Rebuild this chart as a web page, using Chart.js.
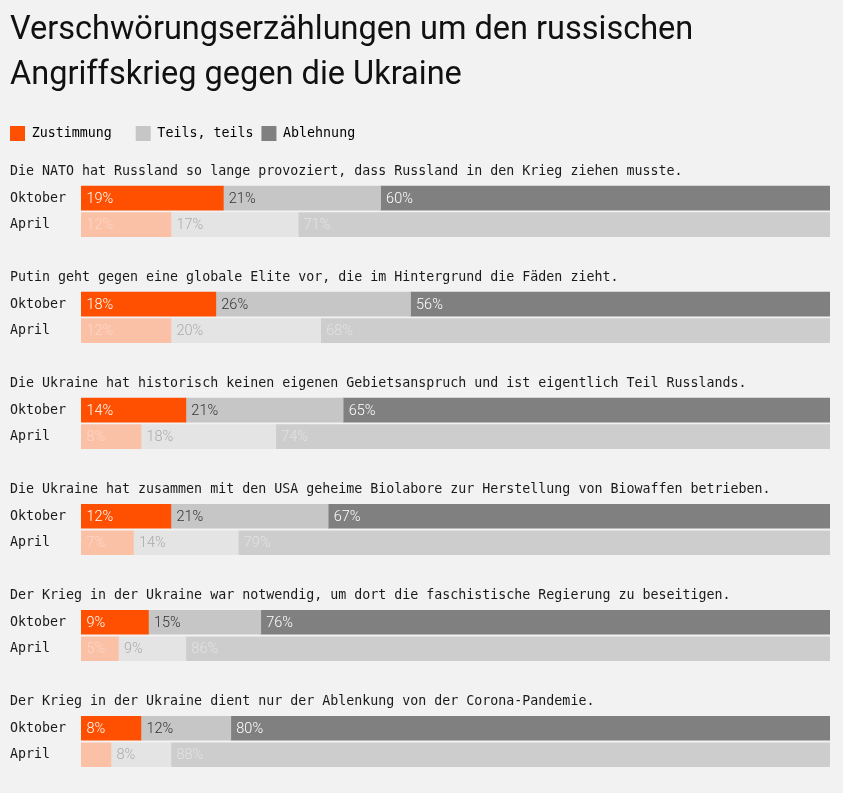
<!DOCTYPE html>
<html>
<head>
<meta charset="utf-8">
<script src="https://cdn.jsdelivr.net/npm/chart.js@4.4.1/dist/chart.umd.min.js"></script>
<style>
  html, body { margin: 0; padding: 0; background: #f2f2f2; }
  #wrap { position: relative; width: 843px; height: 793px; }
</style>
</head>
<body>
<div id="wrap"><canvas id="c" width="843" height="793"></canvas></div>
<script>
const questions = [
  "Die NATO hat Russland so lange provoziert, dass Russland in den Krieg ziehen musste.",
  "Putin geht gegen eine globale Elite vor, die im Hintergrund die Fäden zieht.",
  "Die Ukraine hat historisch keinen eigenen Gebietsanspruch und ist eigentlich Teil Russlands.",
  "Die Ukraine hat zusammen mit den USA geheime Biolabore zur Herstellung von Biowaffen betrieben.",
  "Der Krieg in der Ukraine war notwendig, um dort die faschistische Regierung zu beseitigen.",
  "Der Krieg in der Ukraine dient nur der Ablenkung von der Corona-Pandemie."
];
const periods = ["Oktober", "April"];
const seriesNames = ["Zustimmung", "Teils, teils", "Ablehnung"];

const zustimmungOktober = [19, 18, 14, 12, 9, 8];
const teilsOktober      = [21, 26, 21, 21, 15, 12];
const ablehnungOktober  = [60, 56, 65, 67, 76, 80];
const zustimmungApril   = [12, 12, 8, 7, 5, 4];
const teilsApril        = [17, 20, 18, 14, 9, 8];
const ablehnungApril    = [71, 68, 74, 79, 86, 88];

const colorsOktober = ["#fe5000", "#c6c6c6", "#808080"];
const colorsApril   = ["#fbc1a6", "#e4e4e4", "#cdcdcd"];
const textOktober   = ["#ffffff", "#333333", "#ffffff"];
const textApril     = ["#fdd6c6", "#ababab", "#e2e2e2"];

const rowLabels = [];
const rowKind = [];
const rowGroup = [];
questions.forEach((q, i) => {
  rowLabels.push(q, periods[0], periods[1]);
  rowKind.push("q", "okt", "apr");
  rowGroup.push(i, i, i);
  if (i < questions.length - 1) { rowLabels.push(""); rowKind.push("blank"); rowGroup.push(i); }
});

function buildRow(okt, apr) {
  return rowKind.map((k, idx) => k === "okt" ? okt[rowGroup[idx]] : (k === "apr" ? apr[rowGroup[idx]] : null));
}

const seriesData = [
  buildRow(zustimmungOktober, zustimmungApril),
  buildRow(teilsOktober, teilsApril),
  buildRow(ablehnungOktober, ablehnungApril)
];

const MONO = "'DejaVu Sans Mono', 'Liberation Mono', monospace";
const legendGaps = ["   ", " ", ""];

const legendSpacing = {
  id: "legendSpacing",
  beforeInit(chart) {
    const lg = chart.legend;
    if (!lg) return;
    const orig = lg.fit;
    lg.fit = function () { orig.call(this); this.height += 7.4; };
  }
};

const barLabels = {
  id: "barLabels",
  afterDatasetsDraw(chart) {
    const ctx = chart.ctx;
    ctx.save();
    ctx.font = "300 14.5px Roboto, 'Liberation Sans', Arial, sans-serif";
    ctx.textBaseline = "middle";
    ctx.textAlign = "left";
    chart.data.datasets.forEach((ds, di) => {
      const meta = chart.getDatasetMeta(di);
      meta.data.forEach((el, i) => {
        const v = ds.data[i];
        if (v == null) return;
        const left = Math.min(el.x, el.base);
        const width = Math.abs(el.x - el.base);
        if (width < 34) return;
        ctx.fillStyle = rowKind[i] === "apr" ? textApril[di] : textOktober[di];
        ctx.fillText(v + "%", left + 5.5, el.y + 1);
      });
    });
    ctx.restore();
  }
};

new Chart(document.getElementById("c"), {
  type: "bar",
  data: {
    labels: rowLabels,
    datasets: seriesData.map((d, di) => ({
      label: seriesNames[di],
      data: d,
      backgroundColor: (c) => rowKind[c.dataIndex] === "apr" ? colorsApril[di] : colorsOktober[di],
      borderWidth: 0,
      barThickness: 24
    }))
  },
  options: {
    indexAxis: "y",
    responsive: false,
    animation: false,
    devicePixelRatio: 1,
    layout: { padding: { left: 10, right: 13, top: 0, bottom: 25 } },
    scales: {
      x: { stacked: true, min: 0, max: 100, display: false },
      y: {
        stacked: true,
        grid: { display: false, drawTicks: false },
        border: { display: false },
        afterFit(scale) { scale.width = 71; },
        ticks: {
          autoSkip: false,
          mirror: true,
          crossAlign: "near",
          padding: -71,
          color: "#1a1a1a",
          font: { family: MONO, size: 13.3 }
        }
      }
    },
    plugins: {
      title: {
        display: true,
        text: ["Verschwörungserzählungen um den russischen", "Angriffskrieg gegen die Ukraine"],
        align: "start",
        color: "#111111",
        font: { family: "Roboto, 'Liberation Sans', sans-serif", size: 32.5, weight: "normal", lineHeight: 45 / 32.5 },
        padding: { top: 8.5, bottom: 27.5 }
      },
      legend: {
        display: true,
        align: "start",
        labels: {
          boxWidth: 15,
          boxHeight: 15,
          padding: 0,
          color: "#1a1a1a",
          font: { family: MONO, size: 13.3 },
          generateLabels: () => seriesNames.map((n, i) => ({
            text: n + legendGaps[i], fillStyle: colorsOktober[i], strokeStyle: colorsOktober[i], lineWidth: 0, datasetIndex: i
          }))
        }
      },
      tooltip: { enabled: false }
    }
  },
  plugins: [legendSpacing, barLabels]
});
</script>
</body>
</html>
